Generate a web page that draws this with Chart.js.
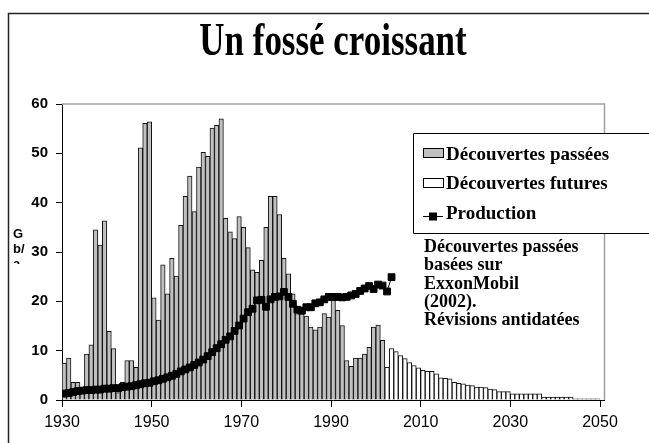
<!DOCTYPE html>
<html>
<head>
<meta charset="utf-8">
<script src="https://cdn.jsdelivr.net/npm/chart.js@4.4.0/dist/chart.umd.min.js"></script>
<style>
html,body{margin:0;padding:0;background:#fff}
#c{display:block}
</style>
</head>
<body>
<canvas id="c" width="649" height="443"></canvas>
<script>
const titleText = "Un fossé croissant"
const yTitleLines = ["G", "b/", "a"]
const legendLabels = ["Découvertes passées", "Découvertes futures", "Production"]
const noteLines = ["Découvertes passées", "basées sur", "ExxonMobil", "(2002).", "Révisions antidatées"]
const xTickYears = [1930, 1950, 1970, 1990, 2010, 2030, 2050]

// Gb/a, one value per year
const pastStart = 1930
const pastDiscoveries = [
  7.5, 8.5, 3.6, 3.6, 1.5, 9.3, 11.2, 34.5, 31.4, 36.3,
  13.9, 10.4, 1.5, 3.6, 8.0, 8.0, 6.6, 51.1, 56.1, 56.4,
  20.7, 16.2, 27.4, 21.5, 28.7, 25.1, 35.4, 41.3, 45.4, 38.2,
  47.2, 50.2, 49.4, 55.1, 55.7, 57.0, 36.8, 34.1, 32.7, 37.2,
  35.0, 30.9, 26.4, 25.9, 28.3, 35.0, 41.3, 41.3, 37.6, 28.7,
  25.6, 21.5, 17.5, 17.5, 17.0, 14.8, 14.2, 14.8, 17.5, 16.8,
  20.2, 18.2, 15.1, 8.0, 6.8, 8.5, 8.5, 9.3, 10.7, 14.8,
  15.2, 12.1
]
const futureStart = 2002
const futureDiscoveries = [
  6.6, 10.4, 9.8, 9.0, 8.4, 7.6, 7.0, 6.5,
  6.0, 5.8, 5.8, 5.3, 4.5, 4.4, 4.3, 3.6, 3.4, 3.3,
  3.0, 2.9, 2.6, 2.6, 2.5, 2.2, 2.1, 1.7, 1.7, 1.7,
  1.25, 1.25, 1.25, 1.25, 1.25, 1.25, 1.25,
  0.6, 0.6, 0.6, 0.6, 0.6, 0.6, 0.6,
  0.25, 0.25, 0.25, 0.25, 0.25, 0.25
]
const prodStart = 1930
const production = [
  1.3, 1.4, 1.6, 1.8, 1.9, 2.0, 2.0, 2.1, 2.1, 2.3,
  2.3, 2.4, 2.4, 2.6, 2.7, 2.8, 3.0, 3.2, 3.4, 3.5,
  3.8, 4.0, 4.3, 4.6, 4.9, 5.3, 5.8, 6.2, 6.6, 7.1,
  7.6, 8.2, 8.9, 9.7, 10.5, 11.3, 12.2, 12.9, 14.0, 15.1,
  16.5, 17.8, 18.5, 20.2, 20.3, 18.9, 20.4, 20.9, 21.0, 21.9,
  20.9, 19.5, 18.3, 18.1, 18.8, 18.8, 19.6, 19.8, 20.4, 20.9,
  20.9, 20.9, 20.8, 20.9, 21.2, 21.5, 22.1, 22.6, 23.1, 22.5,
  23.4, 23.2, 22.0, 24.9
]

// bars and points sit in the middle of their year
const toPoints = (start, arr) => arr.map((v, i) => ({ x: start + i + 0.5, y: v }))

const grayFill = "#c0c0c0"
const serif = "'Liberation Serif', 'Times New Roman', serif"
const sans = "'Liberation Sans', Arial, sans-serif"

const decorPlugin = {
  id: "decor",
  beforeDraw(chart){
    const ctx = chart.ctx
    ctx.save()
    ctx.fillStyle = "#fff"
    ctx.fillRect(0, 0, chart.width, chart.height)
    // outer frame
    ctx.strokeStyle = "#222"
    ctx.lineWidth = 1.5
    ctx.beginPath()
    ctx.moveTo(8.5, chart.height + 2)
    ctx.lineTo(8.5, 13.5)
    ctx.lineTo(chart.width + 2, 13.5)
    ctx.stroke()
    // title, narrow like the original
    ctx.fillStyle = "#000"
    ctx.font = "bold 46px " + serif
    ctx.textAlign = "center"
    ctx.textBaseline = "alphabetic"
    ctx.translate(333, 55)
    ctx.scale(0.76, 1)
    ctx.fillText(titleText, 0, 0)
    ctx.restore()
  },
  beforeDatasetsDraw(chart){
    const ctx = chart.ctx
    const a = chart.chartArea
    ctx.save()
    ctx.strokeStyle = "#a0a0a0"
    ctx.lineWidth = 1.5
    ctx.beginPath()
    ctx.moveTo(a.left, a.top)
    ctx.lineTo(a.right, a.top)
    ctx.lineTo(a.right, a.bottom)
    ctx.stroke()
    ctx.restore()
  },
  afterDraw(chart){
    const ctx = chart.ctx
    ctx.save()
    // y axis title, wrapped and cut off like in the source
    ctx.fillStyle = "#000"
    ctx.font = "bold 13px " + sans
    ctx.textAlign = "left"
    ctx.textBaseline = "alphabetic"
    ctx.beginPath()
    ctx.rect(10, 220, 30, 44)
    ctx.clip()
    yTitleLines.forEach((t, i) => ctx.fillText(t, 13, 238 + i * 15))
    ctx.restore()

    // legend box
    ctx.save()
    ctx.fillStyle = "#fff"
    ctx.strokeStyle = "#000"
    ctx.lineWidth = 1
    ctx.fillRect(413.5, 133.5, 260, 100)
    ctx.beginPath()
    ctx.moveTo(chart.width + 2, 133.5)
    ctx.lineTo(413.5, 133.5)
    ctx.lineTo(413.5, 233.5)
    ctx.lineTo(chart.width + 2, 233.5)
    ctx.stroke()
    ctx.font = "bold 19px " + serif
    ctx.textBaseline = "alphabetic"
    const rows = [160, 189, 219]
    ctx.fillStyle = grayFill
    ctx.fillRect(423.5, 148.5, 20, 9)
    ctx.strokeRect(423.5, 148.5, 20, 9)
    ctx.fillStyle = "#fff"
    ctx.fillRect(423.5, 178.5, 20, 9)
    ctx.strokeRect(423.5, 178.5, 20, 9)
    ctx.beginPath()
    ctx.moveTo(423, 216.5)
    ctx.lineTo(443, 216.5)
    ctx.stroke()
    ctx.fillStyle = "#000"
    ctx.fillRect(429, 212.5, 8, 8)
    legendLabels.forEach((t, i) => ctx.fillText(t, 446, rows[i]))
    // note under the legend
    ctx.font = "bold 18px " + serif
    noteLines.forEach((t, i) => ctx.fillText(t, 424, 252 + i * 18.3))
    ctx.restore()
  }
}

new Chart(document.getElementById("c"), {
  type: "bar",
  data: {
    datasets: [
      {
        type: "line",
        label: legendLabels[2],
        data: toPoints(prodStart, production),
        borderColor: "#000",
        backgroundColor: "#000",
        borderWidth: 1,
        pointStyle: "rect",
        pointRadius: 4.8,
        pointBorderWidth: 1,
        tension: 0,
        order: 0
      },
      {
        label: legendLabels[0],
        data: toPoints(pastStart, pastDiscoveries),
        backgroundColor: grayFill,
        borderColor: "#111",
        borderWidth: 1,
        borderSkipped: "bottom",
        grouped: false,
        barPercentage: 1,
        categoryPercentage: 1,
        order: 1
      },
      {
        label: legendLabels[1],
        data: toPoints(futureStart, futureDiscoveries),
        backgroundColor: "#fff",
        borderColor: "#111",
        borderWidth: 1,
        borderSkipped: "bottom",
        grouped: false,
        barPercentage: 1,
        categoryPercentage: 1,
        order: 2
      }
    ]
  },
  options: {
    responsive: false,
    animation: false,
    devicePixelRatio: 1,
    layout: { padding: { top: 104, right: 44.5, left: 0, bottom: 0 } },
    plugins: {
      legend: { display: false },
      title: { display: false },
      tooltip: { enabled: false }
    },
    scales: {
      x: {
        type: "linear",
        min: 1930,
        max: 2051,
        offset: false,
        afterBuildTicks: axis => { axis.ticks = xTickYears.map(v => ({ value: v })) },
        afterFit: axis => { axis.height = 43 },
        grid: { display: true, offset: false, drawOnChartArea: false, drawTicks: true, tickLength: 7, color: "#000", lineWidth: 1 },
        border: { display: true, color: "#000", width: 1 },
        ticks: {
          color: "#000",
          font: { family: sans, size: 16 },
          padding: 6,
          maxRotation: 0,
          autoSkip: false,
          callback: v => String(v)
        }
      },
      y: {
        min: 0,
        max: 60,
        afterFit: axis => { axis.width = 62 },
        grid: { display: true, drawOnChartArea: false, drawTicks: true, tickLength: 6, color: "#000", lineWidth: 1 },
        border: { display: true, color: "#000", width: 1 },
        ticks: {
          stepSize: 10,
          color: "#000",
          font: { family: sans, size: 15, weight: "bold" },
          padding: 8
        }
      }
    }
  },
  plugins: [decorPlugin]
})
</script>
</body>
</html>
